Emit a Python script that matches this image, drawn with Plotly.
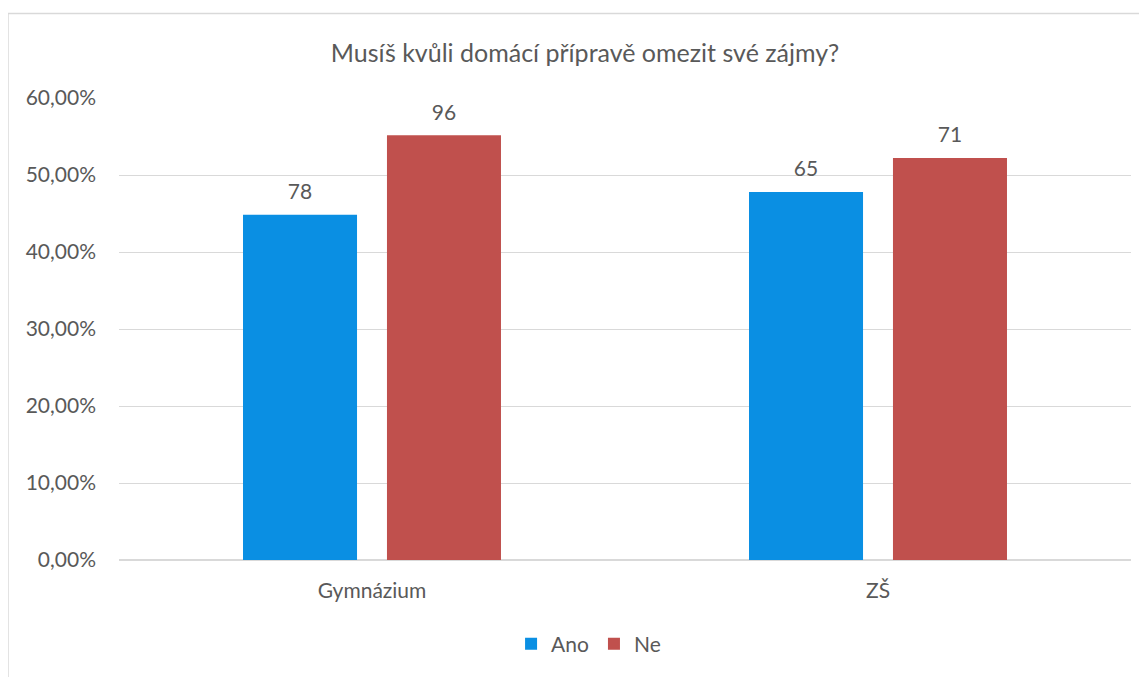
import plotly.graph_objects as go

categories = ["Gymnázium", "ZŠ"]
series_names = ["Ano", "Ne"]
ano_share = [0.4483, 0.4779]
ne_share = [0.5517, 0.5221]
ano_counts = [78, 65]
ne_counts = [96, 71]
colors = ["#0A8FE3", "#C0504D"]
title_text = "Musíš kvůli domácí přípravě omezit své zájmy?"

FONT = "Lato, Open Sans, sans-serif"
TXT = "#595959"
W, H = 1139, 669  # page has an 8px body margin

fig = go.Figure()
for name, vals, col in zip(series_names, [ano_share, ne_share], colors):
    fig.add_trace(go.Bar(
        x=categories, y=vals, name=name, marker_color=col, marker_line_width=0,
        offsetgroup=name,
    ))
for name, vals, cnts in zip(series_names, [ano_share, ne_share], [ano_counts, ne_counts]):
    fig.add_trace(go.Scatter(
        x=categories, y=vals, mode="markers+text", offsetgroup=name,
        marker=dict(size=15, opacity=0), text=[str(c) for c in cnts],
        textposition="top center", textfont=dict(size=21, color=TXT, family=FONT),
        showlegend=False, hoverinfo="skip", cliponaxis=False,
    ))

fig.update_layout(
    width=W, height=H,
    margin=dict(l=111, r=16, t=90, b=115, pad=0),
    paper_bgcolor="white", plot_bgcolor="white",
    separators=", ",
    barmode="group", bargap=0.431, bargroupgap=0.208,
    scattermode="group", scattergap=0.431,
    font=dict(family=FONT, color=TXT, size=21),
    title=dict(text=title_text, x=0.5066, xanchor="center", y=1 - 45 / H, yanchor="middle",
               font=dict(size=25, color=TXT, family=FONT)),
    showlegend=True,
    legend=dict(orientation="h", x=0.464, xanchor="center", y=-0.182, yanchor="middle",
                font=dict(size=21, color=TXT), itemwidth=30, traceorder="normal"),
    xaxis=dict(showgrid=False, showline=False, ticks="", ticklabelstandoff=16,
               tickfont=dict(size=21, color=TXT)),
    yaxis=dict(range=[0, 0.6], dtick=0.1, tickformat=".2%", showgrid=True,
               gridcolor="#D9D9D9", gridwidth=1, zeroline=True, zerolinecolor="#D9D9D9",
               zerolinewidth=1.5, showline=False, ticks="", ticklabelstandoff=22,
               tickfont=dict(size=21, color=TXT)),
    shapes=[dict(type="rect", xref="paper", yref="paper", x0=-0.1097, x1=1.03,
                 y0=-0.3, y1=1.183, line=dict(color="#D9D9D9", width=1.5),
                 fillcolor="rgba(0,0,0,0)", layer="below")],
)

fig.write_html("out.html")
